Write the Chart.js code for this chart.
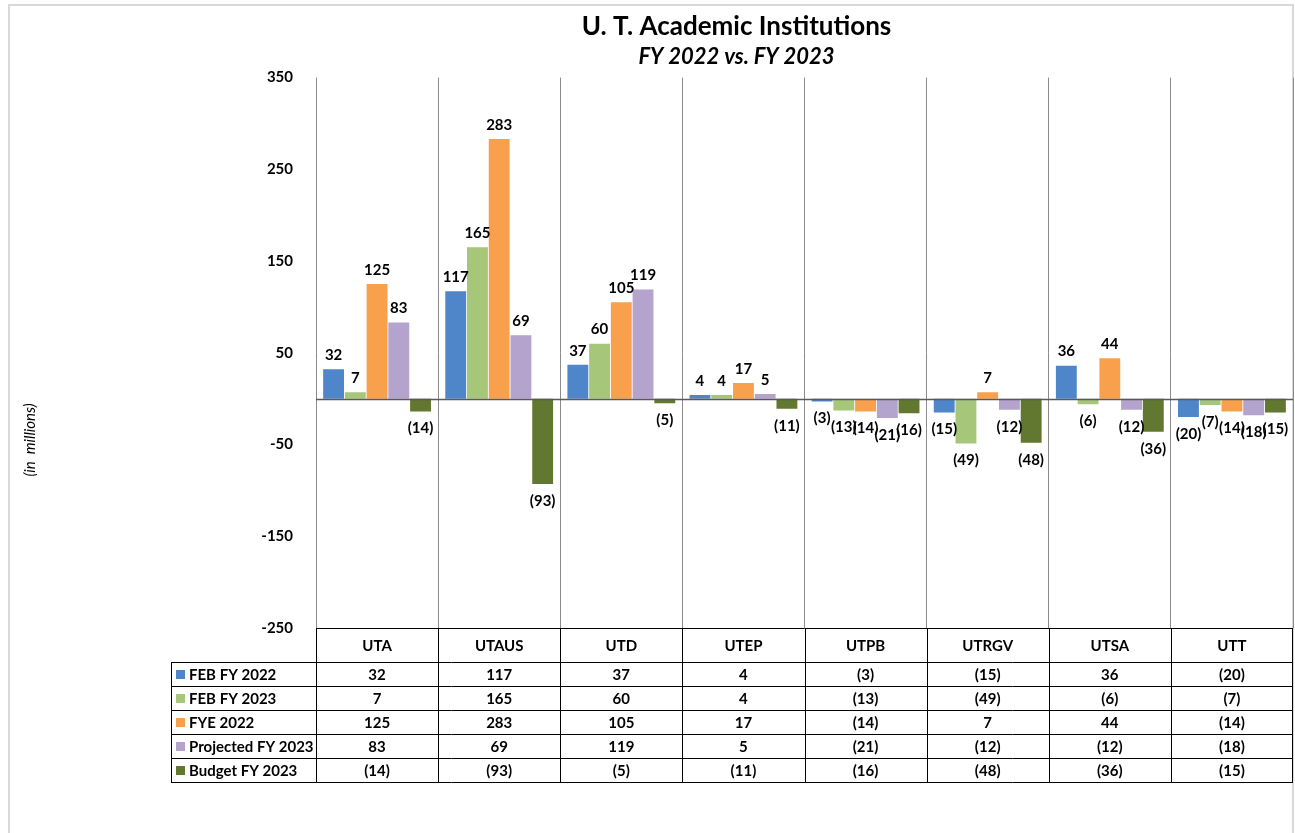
<!DOCTYPE html>
<html>
<head>
<meta charset="utf-8">
<title>U. T. Academic Institutions</title>
<script src="https://cdn.jsdelivr.net/npm/chart.js@4.4.1/dist/chart.umd.min.js"></script>
<style>
  html, body { margin: 0; padding: 0; background: #fff; }
  #wrap { width: 1295px; height: 833px; position: relative; }
</style>
</head>
<body>
<div id="wrap"><canvas id="utChart" width="1295" height="833"></canvas></div>
<script>
// ===== Data =====
const categories = ['UTA', 'UTAUS', 'UTD', 'UTEP', 'UTPB', 'UTRGV', 'UTSA', 'UTT'];
const febFY2022 = [32, 117, 37, 4, -3, -15, 36, -20];
const febFY2023 = [7, 165, 60, 4, -13, -49, -6, -7];
const fye2022 = [125, 283, 105, 17, -14, 7, 44, -14];
const projectedFY2023 = [83, 69, 119, 5, -21, -12, -12, -18];
const budgetFY2023 = [-14, -93, -5, -11, -16, -48, -36, -15];
const yTicks = [-250, -150, -50, 50, 150, 250, 350];

const seriesNames = ['FEB FY 2022', 'FEB FY 2023', 'FYE 2022', 'Projected FY 2023', 'Budget FY 2023'];
const seriesData = [febFY2022, febFY2023, fye2022, projectedFY2023, budgetFY2023];
const seriesColors = ['#4f86c9', '#a6c67a', '#f9a04c', '#b3a3cd', '#62772f'];

const FONT = 'Lato, Carlito, "Open Sans", sans-serif';

// negative numbers shown in parentheses
const fmt = v => v < 0 ? '(' + (-v) + ')' : String(v);

// ===== Plugins =====
const frame = {
  id: 'frame',
  beforeDraw(chart) {
    const c = chart.ctx;
    c.save();
    c.strokeStyle = '#d9d9d9';
    c.lineWidth = 2;
    c.strokeRect(9, 5, 1284, 840);
    c.restore();
  }
};

const zeroLine = {
  id: 'zeroLine',
  afterDatasetsDraw(chart) {
    const c = chart.ctx;
    const y = Math.round(chart.scales.y.getPixelForValue(0)) + 0.5;
    c.save();
    c.strokeStyle = '#595959';
    c.lineWidth = 1.5;
    c.beginPath();
    c.moveTo(chart.chartArea.left, y);
    c.lineTo(chart.chartArea.right, y);
    c.stroke();
    c.restore();
  }
};

const valueLabels = {
  id: 'valueLabels',
  afterDatasetsDraw(chart) {
    const c = chart.ctx;
    c.save();
    c.font = 'bold 15px ' + FONT;
    c.fillStyle = '#000';
    c.textAlign = 'center';
    c.textBaseline = 'middle';
    chart.data.datasets.forEach((ds, i) => {
      chart.getDatasetMeta(i).data.forEach((bar, j) => {
        const v = ds.data[j];
        const y = v >= 0 ? bar.y - 14 : bar.y + 17;
        c.fillText(fmt(v), bar.x, y);
      });
    });
    c.restore();
  }
};

const dataTable = {
  id: 'dataTable',
  afterDraw(chart) {
    const c = chart.ctx;
    const xs = chart.scales.x;
    const area = chart.chartArea;
    const half = (xs.getPixelForValue(1) - xs.getPixelForValue(0)) / 2;
    const top = area.bottom;
    const headerBottom = 662;
    const rowH = 24;
    const labelLeft = 171;
    const bottom = headerBottom + rowH * seriesNames.length;

    c.save();
    c.strokeStyle = '#000';
    c.lineWidth = 1;

    // header row (category names come from the x axis ticks)
    c.beginPath();
    c.moveTo(area.left, top + 0.5);
    c.lineTo(area.right, top + 0.5);
    for (let r = 0; r <= seriesNames.length; r++) {
      const y = headerBottom + r * rowH + 0.5;
      c.moveTo(labelLeft, y);
      c.lineTo(area.right, y);
    }
    c.moveTo(labelLeft + 0.5, headerBottom);
    c.lineTo(labelLeft + 0.5, bottom);
    categories.forEach((cat, i) => {
      const x = Math.round(xs.getPixelForValue(i) - half) + 0.5;
      c.moveTo(x, top);
      c.lineTo(x, bottom);
    });
    c.moveTo(area.right - 0.5, top);
    c.lineTo(area.right - 0.5, bottom);
    c.stroke();

    c.font = 'bold 15px ' + FONT;
    c.textBaseline = 'middle';
    seriesNames.forEach((name, r) => {
      const cy = headerBottom + r * rowH + rowH / 2 + 1;
      c.fillStyle = seriesColors[r];
      c.fillRect(176, cy - 5, 9, 9);
      c.fillStyle = '#000';
      c.textAlign = 'left';
      c.fillText(name, 189, cy);
      c.textAlign = 'center';
      seriesData[r].forEach((v, i) => {
        c.fillText(fmt(v), xs.getPixelForValue(i), cy);
      });
    });

    // y axis title
    c.translate(30, 440);
    c.rotate(-Math.PI / 2);
    c.font = 'italic 15px ' + FONT;
    c.textAlign = 'center';
    c.fillText('(in  millions)', 0, 0);
    c.restore();
  }
};

// ===== Chart =====
new Chart(document.getElementById('utChart'), {
  type: 'bar',
  data: {
    labels: categories,
    datasets: seriesNames.map((name, i) => ({
      label: name,
      data: seriesData[i],
      backgroundColor: seriesColors[i],
      borderWidth: 0,
      categoryPercentage: 0.89,
      barPercentage: 0.96
    }))
  },
  options: {
    responsive: false,
    animation: false,
    layout: { padding: { left: 180, right: 2, top: 4, bottom: 171 } },
    plugins: {
      legend: { display: false },
      tooltip: { enabled: false },
      title: {
        display: true,
        text: 'U. T. Academic Institutions',
        color: '#000',
        font: { family: FONT, size: 26, weight: 'bold' },
        padding: { top: 7, bottom: 2 }
      },
      subtitle: {
        display: true,
        text: 'FY 2022 vs. FY 2023',
        color: '#000',
        font: { family: FONT, size: 22, weight: 'bold', style: 'italic' },
        padding: { top: 0, bottom: 7 }
      }
    },
    scales: {
      x: {
        grid: { offset: true, color: '#8c8c8c', drawTicks: false },
        border: { display: false },
        ticks: { color: '#000', padding: 9, font: { family: FONT, size: 15, weight: 'bold' } },
        afterFit: s => { s.height = 34; }
      },
      y: {
        min: -250,
        max: 350,
        afterBuildTicks: s => { s.ticks = yTicks.map(v => ({ value: v })); },
        grid: { display: false },
        border: { display: false },
        ticks: { color: '#000', padding: 15, font: { family: FONT, size: 15, weight: 'bold' } },
        afterFit: s => { s.width = 136; }
      }
    }
  },
  plugins: [frame, zeroLine, valueLabels, dataTable]
});
</script>
</body>
</html>
